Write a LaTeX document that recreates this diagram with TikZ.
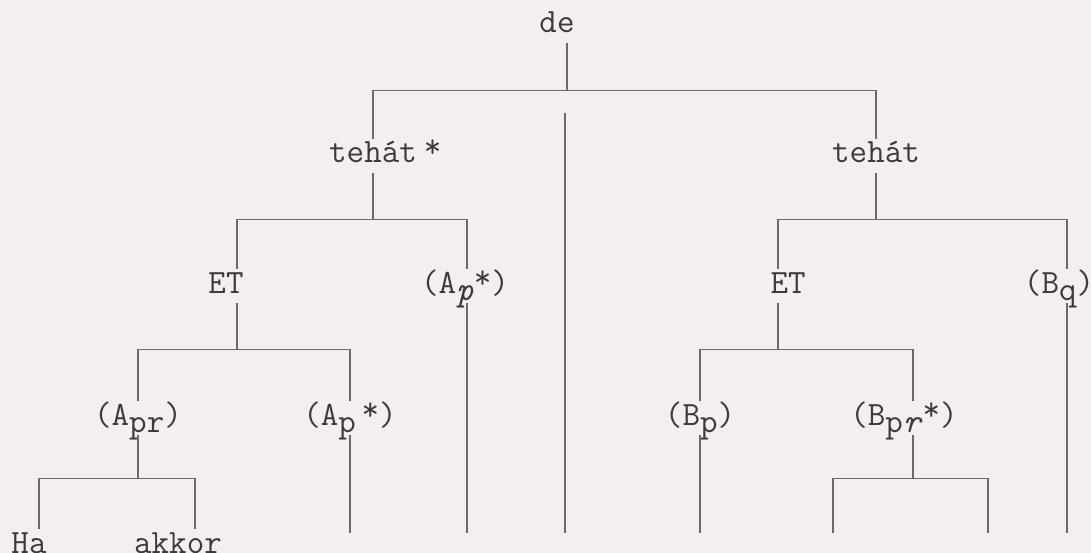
\documentclass[tikz,border=0pt]{standalone}
\usepackage{fontspec}
\usetikzlibrary{positioning}
\definecolor{ink}{HTML}{3E3939}
\definecolor{rule}{HTML}{6E6A6A}
\definecolor{paper}{HTML}{F4EFEE}
\newcommand{\lowsub}[1]{\raisebox{-7pt}{#1}}
\newcommand{\upstar}{\raisebox{5pt}{*}}
\begin{document}
\begin{tikzpicture}[x=1pt,y=-1pt,
  lbl/.style={anchor=base,inner sep=2pt,text height=22pt,text depth=8pt,text=ink,
    font=\ttfamily\fontsize{34}{40}\selectfont},
  edge/.style={draw=rule,line width=1.3pt}]
\fill[paper] (0,0) rectangle (1091,553);
\useasboundingbox (0,0) rectangle (1091,553);
\node[lbl] (de) at (557,33) {de};
\node[lbl] (tehs) at (373,163) {teh\'at\rlap{\hspace{7pt}\upstar}};
\node[lbl] (teh) at (876,163) {teh\'at};
\node[lbl] (etl) at (226,293) {ET};
\node[lbl] (aps) at (465,293) {(A\lowsub{\textit{p}}\upstar)};
\node[lbl] (etr) at (788,293) {ET};
\node[lbl] (bq) at (1059,293) {(B\lowsub{q})};
\node[lbl] (apr) at (138,425) {(A\lowsub{pr})};
\node[lbl] (apl) at (350,425) {(A\lowsub{p}\,\upstar)};
\node[lbl] (bp) at (700,425) {(B\lowsub{p})};
\node[lbl] (bpr) at (904,425) {(B\lowsub{p\textit{r}}\upstar)};
\node[lbl] (ha) at (29,553) {Ha};
\node[lbl] (akkor) at (178,553) {akkor};
\coordinate (d0) at (565,113);
\coordinate (d1) at (565,533);
\coordinate (b1) at (833,533);
\coordinate (b2) at (988,533);
% top
\draw[edge] ([xshift=10pt]de.south) -- ++(0,47) coordinate (j0);
\draw[edge] (tehs.north) |- (j0) -| (teh.north);
\draw[edge] (d0) -- (d1);
% left half
\draw[edge] (tehs.south) -- ++(0,46) coordinate (j1);
\draw[edge] ([xshift=11pt]etl.north) |- (j1) -| ([xshift=2pt]aps.north);
\draw[edge] ([xshift=2pt]aps.south) -- ++(0,230);
\draw[edge] ([xshift=11pt]etl.south) -- ++(0,46) coordinate (j3);
\draw[edge] (apr.north) |- (j3) -| (apl.north);
\draw[edge] (apl.south) -- ++(0,98);
\draw[edge] (apr.south) -- ++(0,43) coordinate (j5);
\draw[edge] ([xshift=10pt]ha.north) |- (j5) -| ([xshift=17pt]akkor.north);
% right half
\draw[edge] (teh.south) -- ++(0,46) coordinate (j2);
\draw[edge] ([xshift=-10pt]etr.north) |- (j2) -| ([xshift=8pt]bq.north);
\draw[edge] ([xshift=8pt]bq.south) -- ++(0,230);
\draw[edge] ([xshift=-10pt]etr.south) -- ++(0,46) coordinate (j4);
\draw[edge] (bp.north) |- (j4) -| ([xshift=9pt]bpr.north);
\draw[edge] (bp.south) -- ++(0,98);
\draw[edge] ([xshift=9pt]bpr.south) -- ++(0,43) coordinate (j6);
\draw[edge] (b1) |- (j6) -| (b2);
\end{tikzpicture}
\end{document}
